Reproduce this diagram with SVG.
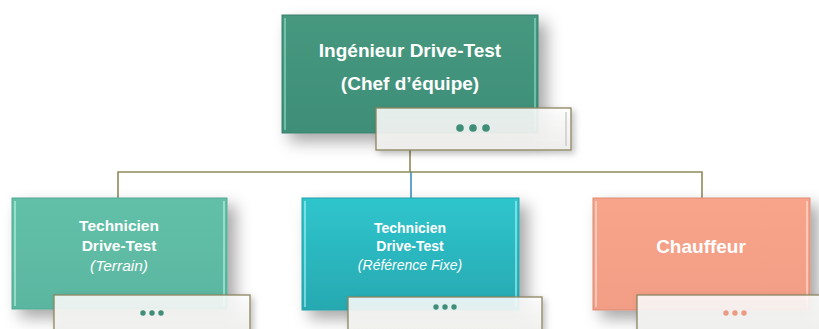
<svg xmlns="http://www.w3.org/2000/svg" width="819" height="329" viewBox="0 0 819 329">
<defs>
<filter id="sh" x="-20%" y="-20%" width="150%" height="160%">
<feDropShadow dx="8" dy="8" stdDeviation="8" flood-color="#000" flood-opacity="0.35"/>
</filter>
<filter id="sh2" x="-20%" y="-40%" width="150%" height="200%">
<feDropShadow dx="3" dy="3" stdDeviation="3" flood-color="#000" flood-opacity="0.25"/>
</filter>
<linearGradient id="gTop" x1="0" y1="0" x2="0" y2="1"><stop offset="0" stop-color="#46987f"/><stop offset="1" stop-color="#3f8e78"/></linearGradient>
<linearGradient id="gL" x1="0" y1="0" x2="0" y2="1"><stop offset="0" stop-color="#63c0a8"/><stop offset="1" stop-color="#5ab6a0"/></linearGradient>
<linearGradient id="gM" x1="0" y1="0" x2="0" y2="1"><stop offset="0" stop-color="#2fc5cd"/><stop offset="1" stop-color="#27a9b1"/></linearGradient>
<linearGradient id="gR" x1="0" y1="0" x2="0" y2="1"><stop offset="0" stop-color="#f8a48b"/><stop offset="1" stop-color="#f29d85"/></linearGradient>
<linearGradient id="gSub" x1="0" y1="0" x2="0" y2="1"><stop offset="0" stop-color="#ffffff" stop-opacity="0.85"/><stop offset="1" stop-color="#eeeeec" stop-opacity="0.95"/></linearGradient>
</defs>
<style>
.t{font-family:"Liberation Sans",Arial,sans-serif;font-weight:bold;fill:#ffffff;text-anchor:middle}
.i{font-family:"Liberation Sans",Arial,sans-serif;font-style:italic;fill:#ffffff;text-anchor:middle}
.sub{stroke:#8c8660;stroke-width:1.3;fill:url(#gSub)}
.bev{fill:none;stroke-width:1.5;stroke-opacity:0.8}
.conn{fill:none;stroke:#8e8a5a;stroke-width:1.6}
</style>
<rect width="819" height="329" fill="#ffffff"/>
<g id="connectors">
<path class="conn" d="M410,150 V172 M118,198 V172 H702 V198"/>
<path d="M411,172 V198" fill="none" stroke="#3a8fc0" stroke-width="1.6"/>
</g>
<g id="n-top">
<rect x="282" y="15" width="256" height="118" fill="url(#gTop)" filter="url(#sh)" stroke="#3a7f6c" stroke-width="1"/>
<path class="bev" d="M285,18 V130 M535,18 V130" stroke="#8fe0c8"/>
<text class="t" x="410" y="57" font-size="19">Ingénieur Drive-Test</text>
<text class="t" x="410" y="90" font-size="19">(Chef d’équipe)</text>
<rect class="sub" x="376" y="108" width="195" height="42" filter="url(#sh2)" stroke="#5e5a45"/>
<path d="M566,112 V146" stroke="#cccccc" stroke-width="1.5"/>
<g fill="#3f8e78"><circle cx="460" cy="128" r="3.8"/><circle cx="473" cy="128" r="3.8"/><circle cx="486" cy="128" r="3.8"/></g>
</g>
<g id="n-left">
<rect x="12" y="198" width="215" height="111" fill="url(#gL)" filter="url(#sh)" stroke="#52a892" stroke-width="1"/>
<path class="bev" d="M15,201 V306 M224,201 V306" stroke="#b8f2e2"/>
<text class="t" x="119" y="231" font-size="15.5">Technicien</text>
<text class="t" x="119" y="251" font-size="15.5">Drive-Test</text>
<text class="i" x="119" y="271" font-size="15.5">(Terrain)</text>
<rect class="sub" x="54" y="295" width="196" height="40" filter="url(#sh2)" stroke="#b3ab84"/>
<g fill="#3f8e78"><circle cx="143" cy="313" r="2.7"/><circle cx="152" cy="313" r="2.7"/><circle cx="161" cy="313" r="2.7"/></g>
</g>
<g id="n-mid">
<rect x="302" y="198" width="217" height="112" fill="url(#gM)" filter="url(#sh)" stroke="#24a0a8" stroke-width="1"/>
<path class="bev" d="M305,201 V307 M516,201 V307" stroke="#a5f4f8"/>
<text class="t" x="410" y="233" font-size="14">Technicien</text>
<text class="t" x="410" y="251" font-size="14">Drive-Test</text>
<text class="i" x="410" y="270" font-size="14">(Référence Fixe)</text>
<rect class="sub" x="348" y="297" width="194" height="40" filter="url(#sh2)" stroke="#7fc9ce"/>
<g fill="#3f8e78"><circle cx="436" cy="307" r="2.7"/><circle cx="445" cy="307" r="2.7"/><circle cx="454" cy="307" r="2.7"/></g>
</g>
<g id="n-right">
<rect x="593" y="198" width="217" height="112" fill="url(#gR)" filter="url(#sh)" stroke="#d98c75" stroke-width="1"/>
<path class="bev" d="M596,201 V307 M807,201 V307" stroke="#ffe2d8"/>
<text class="t" x="701" y="253" font-size="19">Chauffeur</text>
<rect class="sub" x="637" y="295" width="200" height="40" filter="url(#sh2)" stroke="#b3ab84"/>
<g fill="#ec9a84"><circle cx="726" cy="313" r="2.7"/><circle cx="735" cy="313" r="2.7"/><circle cx="744" cy="313" r="2.7"/></g>
</g>
</svg>
